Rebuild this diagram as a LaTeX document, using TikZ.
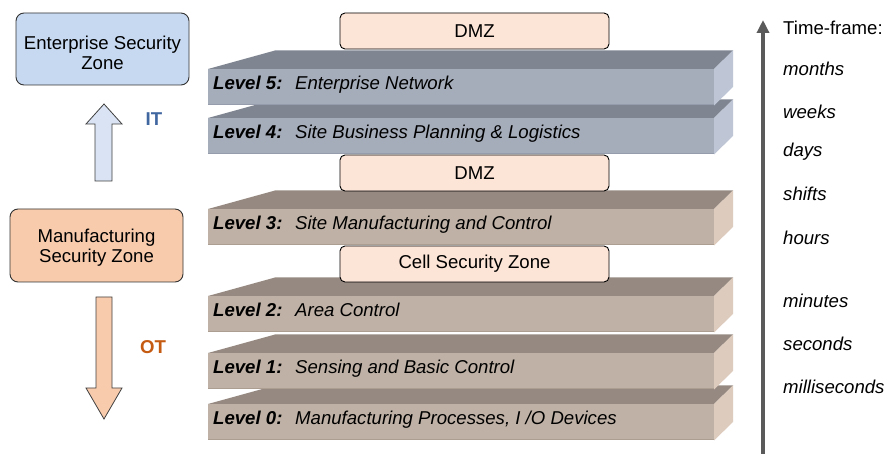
\documentclass[tikz,border=0pt]{standalone}
\usepackage{fontspec}
\setmainfont{Liberation Sans}
\usetikzlibrary{arrows.meta}
\definecolor{bfront}{HTML}{A5ACBA}
\definecolor{btop}{HTML}{7F8591}
\definecolor{bside}{HTML}{BEC5D5}
\definecolor{bedge}{HTML}{959CAB}
\definecolor{rfront}{HTML}{BFB1A5}
\definecolor{rtop}{HTML}{968981}
\definecolor{rside}{HTML}{DDCBBD}
\definecolor{redge}{HTML}{AD9E92}
\definecolor{dmzfill}{HTML}{FCE4D6}
\definecolor{entfill}{HTML}{C6D9F1}
\definecolor{mfgfill}{HTML}{F8CBAD}
\definecolor{itarrow}{HTML}{DAE3F3}
\definecolor{itcol}{HTML}{4167A0}
\definecolor{otcol}{HTML}{C55A11}
\definecolor{tlcol}{HTML}{5A5A5A}
\newcommand\drawslab[5]{%
  \fill[#5top] (208,#2) -- (275,#2-18.5) -- (733,#2-18.5) -- (714,#2) -- cycle;
  \fill[#5side] (714,#2) -- (733,#2-18.5) -- (733,#2+18) -- (714,#2+36.5) -- cycle;
  \fill[#5front] (208,#2) rectangle (714,#2+36.5);
  \draw[#5edge, line width=1pt] (208,#2+36) -- (714,#2+36);
  \node[lvl] (#1) at (213,#2+21) {\makebox[82pt][l]{\bfseries\itshape #3}\itshape #4};
}
\begin{document}
\begin{tikzpicture}[x=1pt,y=-1pt,
  every node/.style={font=\fontsize{18.6}{20.5}\selectfont},
  lvl/.style={anchor=base west, inner sep=0pt},
  dmzbox/.style={draw=black, line width=0.9pt, fill=dmzfill, rounded corners=5pt,
    minimum width=269pt, minimum height=36pt, inner sep=0pt},
  zonebox/.style={draw=black!80, line width=0.9pt, rounded corners=8pt,
    minimum width=173pt, minimum height=72pt, inner sep=0pt},
  zonetext/.style={align=center, inner sep=0pt},
  tf/.style={anchor=base west, inner sep=0pt},
  blockarrow/.style={draw=black!75, line width=0.8pt}
]
\useasboundingbox (0,0) rectangle (887,454);
\fill[white] (0,0) rectangle (887,454);
% slabs, drawn bottom to top
\drawslab{l0}{404}{Level 0:}{Manufacturing Processes, I /O Devices}{r}
\drawslab{l1}{353}{Level 1:}{Sensing and Basic Control}{r}
\drawslab{l2}{296}{Level 2:}{Area Control}{r}
\drawslab{l3}{209}{Level 3:}{Site Manufacturing and Control}{r}
\drawslab{l4}{118}{Level 4:}{Site Business Planning \& Logistics}{b}
\drawslab{l5}{69}{Level 5:}{Enterprise Network}{b}
% zones between levels
\node[dmzbox] (dmz1) at (474.5,31) {DMZ};
\node[dmzbox] (dmz2) at (474.5,173) {DMZ};
\node[dmzbox] (cell) at (474.5,264) {Cell Security Zone};
% left zones
\node[zonebox, fill=entfill] (ent) at (102.5,49) {};
\node[zonetext] (entt) at (102.5,53) {Enterprise Security\\Zone};
\node[zonebox, fill=mfgfill, minimum height=73pt] (mfg) at (96.5,245.5) {};
\node[zonetext] (mfgt) at (96.5,247.5) {Manufacturing\\Security Zone};
% IT arrow
\draw[blockarrow, fill=itarrow] (95,181) -- (95,124) -- (86,124) -- (104,104) -- (122,124) -- (112,124) -- (112,181) -- cycle;
\node[text=itcol, font=\fontsize{18.6}{20}\selectfont\bfseries] (it) at (154,119) {IT};
% OT arrow
\draw[blockarrow, fill=mfgfill] (96,297) -- (112,297) -- (112,388) -- (122,388) -- (104,419) -- (86,388) -- (96,388) -- cycle;
\node[text=otcol, font=\fontsize{18.6}{20}\selectfont\bfseries] (ot) at (153,347) {OT};
% time-frame axis
\coordinate (tb) at (763,454);
\coordinate (tt) at (763,20);
\draw[tlcol, line width=3.5pt, -{Triangle[width=12pt,length=13pt]}] (tb) -- (tt);
\node[tf] (tfh) at (783,35) {Time-frame:};
\node[tf] (t1) at (783,76) {\itshape months};
\node[tf] (t2) at (783,119) {\itshape weeks};
\node[tf] (t3) at (783,157) {\itshape days};
\node[tf] (t4) at (783,201) {\itshape shifts};
\node[tf] (t5) at (783,245) {\itshape hours};
\node[tf] (t6) at (783,308) {\itshape minutes};
\node[tf] (t7) at (783,351) {\itshape seconds};
\node[tf] (t8) at (783,394) {\itshape milliseconds};
\end{tikzpicture}
\end{document}
